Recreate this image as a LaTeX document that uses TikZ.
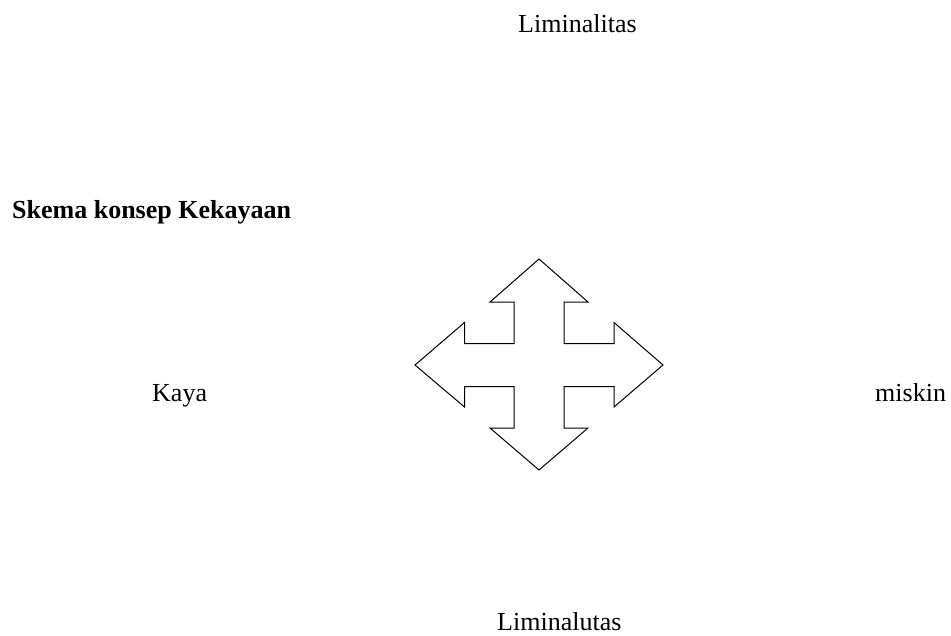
\documentclass[tikz,border=0pt]{standalone}
\usepackage{fontspec}
\setmainfont{Liberation Serif}
\begin{document}
\begin{tikzpicture}[x=1pt,y=-1pt,
  label/.style={inner sep=0pt,font=\fontsize{26}{30}\selectfont},
  title/.style={label,font=\fontsize{26}{30}\selectfont\bfseries},
  quad/.style={draw=black,line width=1pt,line join=miter,fill=white}]
\useasboundingbox (0,0) rectangle (951,635);

% heading
\node[title,anchor=base west] (judul) at (12,218) {Skema konsep Kekayaan};

% four-way arrow
\draw[quad]
  (539,259) -- (588,302) -- (564,302) -- (564,343.5) -- (614,343.5) -- (614,322.5)
  -- (663,365) -- (614,407) -- (614,386.5) -- (564,386.5) -- (564,428) -- (588,428)
  -- (539,470) -- (490,428) -- (514,428) -- (514,386.5) -- (464.5,386.5) -- (464.5,407)
  -- (415,365) -- (464.5,322.5) -- (464.5,343.5) -- (514,343.5) -- (514,302) -- (490,302)
  -- cycle;

% the four poles
\node[label,anchor=base west] (atas) at (518,32) {Liminalitas};
\node[label,anchor=base west] (kiri) at (152,401) {Kaya};
\node[label,anchor=base west] (kanan) at (875,401) {miskin};
\node[label,anchor=base west] (bawah) at (497,630) {Liminalutas};
\end{tikzpicture}
\end{document}
